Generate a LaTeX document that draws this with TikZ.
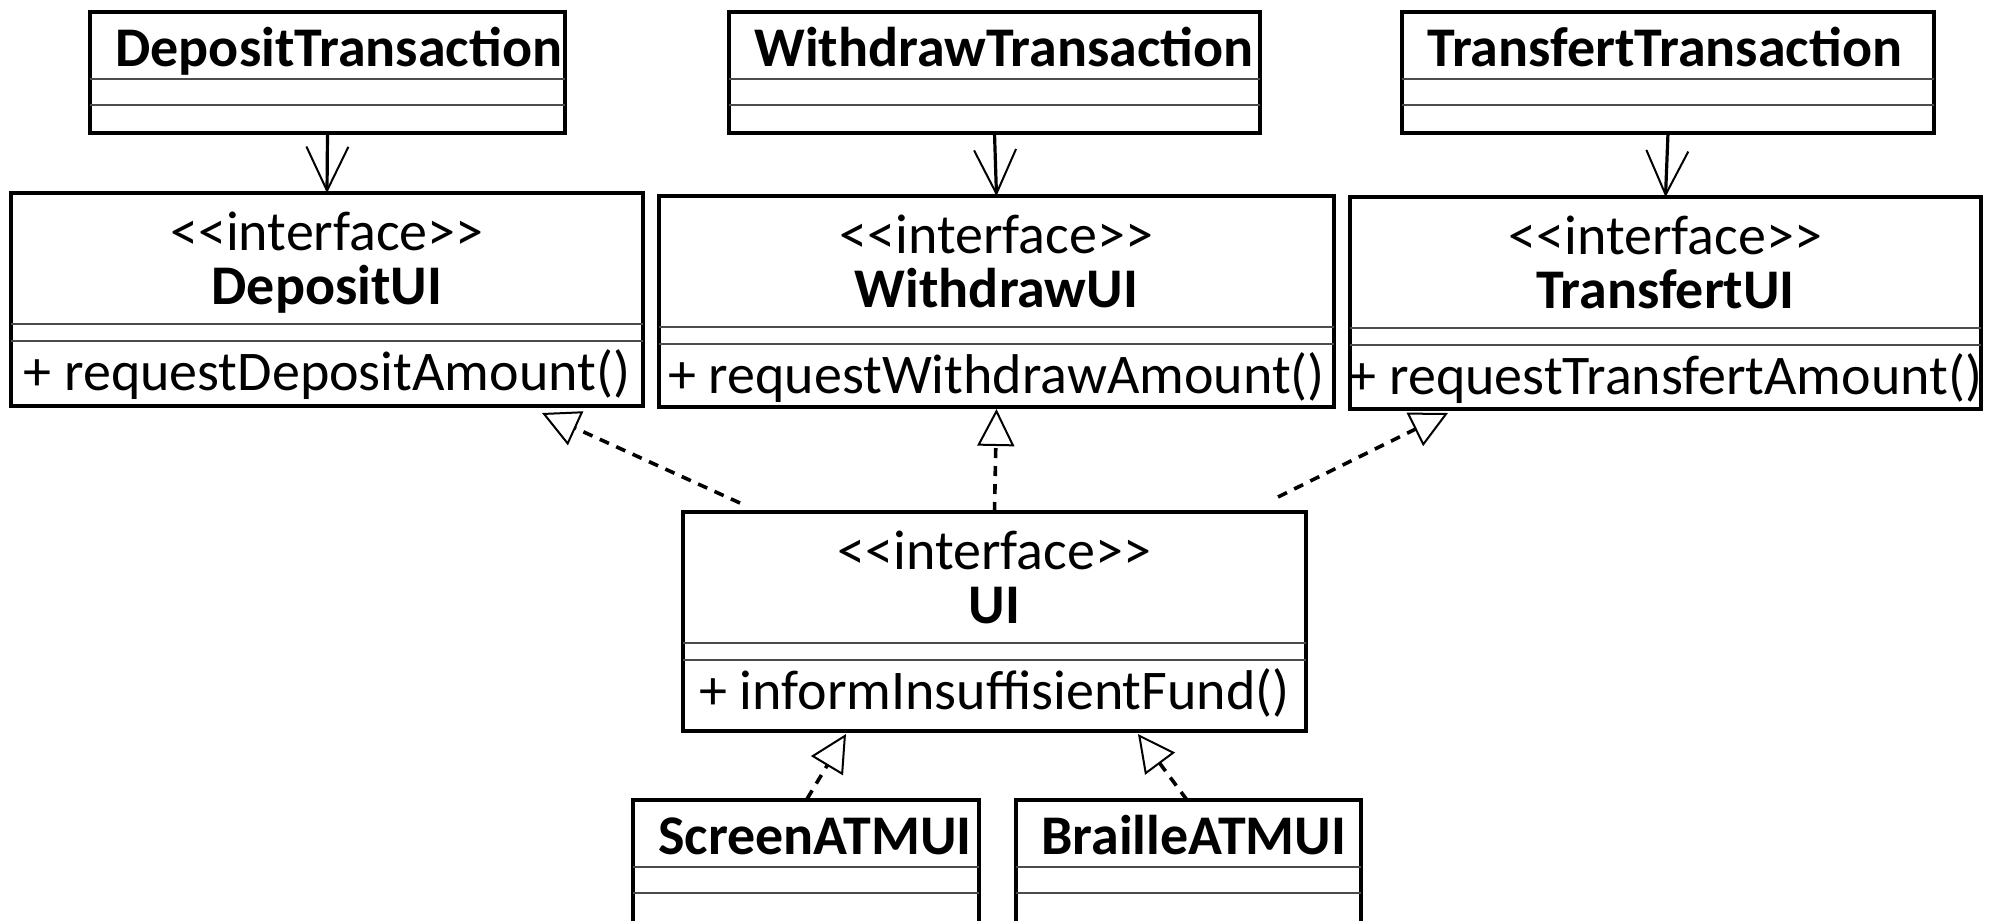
\documentclass[tikz,border=0pt]{standalone}
\usepackage{fontspec}
\setmainfont{Carlito}
\usetikzlibrary{arrows.meta,calc}
\newcommand\umlbox[5]{\node[box, minimum width={(#4-#2)*0.5pt}, minimum height={(#5-#3)*0.5pt}] (#1) at (#2,#3) {};}
\newcommand\compart[2]{\draw[sepl] ($(#1.north west)+(0,#2)$) -- ($(#1.north east)+(0,#2)$);}
\newcommand\classbox[6]{%
  \umlbox{#1}{#2}{#3}{#4}{#5}
  \compart{#1}{67}\compart{#1}{93}
  \node[cname] (#1-t) at ($(#1.north west)+(25,54)$) {#6};}
\newcommand\ifacebox[7]{%
  \umlbox{#1}{#2}{#3}{#4}{#5}
  \compart{#1}{131}\compart{#1}{148}
  \node[ctext] (#1-s) at ($(#1.north)+(0,57)$) {<\kern0pt<interface>\kern0pt>};
  \node[cbold] (#1-t) at ($(#1.north)+(0,111)$) {#6};
  \node[ctext] (#1-m) at ($(#1.north)+(0,197)$) {#7};}
\begin{document}
\begin{tikzpicture}[x=0.5pt,y=-0.5pt,
  box/.style={draw, line width=1.8pt, rectangle, inner sep=0, outer sep=0, anchor=north west},
  sepl/.style={line width=0.55pt, black!70},
  cname/.style={inner sep=0, anchor=base west, font=\fontsize{28}{32}\selectfont\bfseries},
  ctext/.style={inner sep=0, anchor=base, font=\fontsize{28}{32}\selectfont},
  cbold/.style={inner sep=0, anchor=base, font=\fontsize{28}{32}\selectfont\bfseries},
  assoc/.style={line width=1.6pt, -{Straight Barb[length=22pt, width=21pt, line width=1pt]}},
  real/.style={line width=1.8pt, dash pattern=on 5pt off 4pt, -{Triangle[open, length=18.5pt, width=18.5pt, line width=1pt]}},
]
\useasboundingbox (0,0) rectangle (1994,921);
\clip (0,0) rectangle (1994,921);

\classbox{dt}{90}{12}{565}{133}{DepositTransaction}
\classbox{wt}{729}{12}{1260}{133}{WithdrawTransaction}
\classbox{tt}{1402}{12}{1934}{133}{TransfertTransaction}

\ifacebox{dui}{11}{193}{643}{406}{DepositUI}{+ requestDepositAmount()}
\ifacebox{wui}{659}{196}{1334}{407}{WithdrawUI}{+ requestWithdrawAmount()}
\ifacebox{tui}{1350}{197}{1981}{409}{TransfertUI}{+ requestTransfertAmount()}
\ifacebox{ui}{683}{512}{1306}{731}{UI}{+ informInsuffisientFund()}

\classbox{scr}{633}{800}{979}{960}{ScreenATMUI}
\classbox{brl}{1016}{800}{1361}{960}{BrailleATMUI}

\draw[assoc] (dt.south) -- (dui.north);
\draw[assoc] (wt.south) -- (wui.north);
\draw[assoc] (tt.south) -- (tui.north);

\coordinate (dS) at ($(ui.north west)+(57,-9)$);
\coordinate (dE) at ($(dui.south east)+(-101,7)$);
\coordinate (wE) at ($(wui.south)+(0,2)$);
\coordinate (tS) at ($(ui.north east)+(-28,-15)$);
\coordinate (tE) at ($(tui.south west)+(98,4)$);
\coordinate (sS) at ($(scr.north west)+(174,-1)$);
\coordinate (sE) at ($(ui.south west)+(163,3)$);
\coordinate (bS) at ($(brl.north west)+(171,0)$);
\coordinate (bE) at ($(ui.south west)+(455,3)$);

\draw[real] (dS) -- (dE);
\draw[real] (ui.north) -- (wE);
\draw[real] (tS) -- (tE);
\draw[real] (sS) -- (sE);
\draw[real] (bS) -- (bE);
\end{tikzpicture}
\end{document}
